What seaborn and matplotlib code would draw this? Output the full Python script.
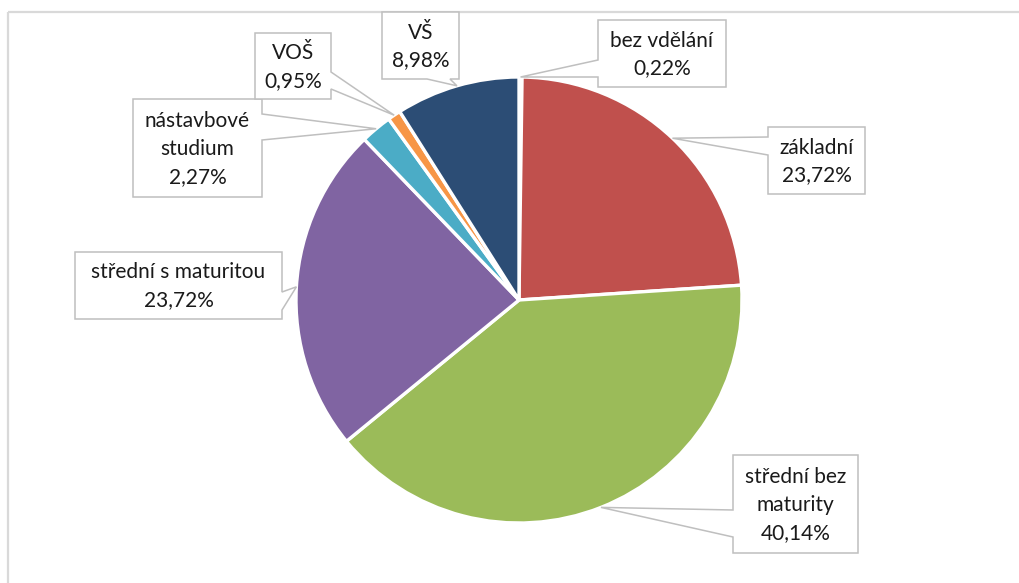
import matplotlib
matplotlib.use("Agg")
import matplotlib.pyplot as plt
import seaborn as sns
import numpy as np
from matplotlib.patches import Polygon, Rectangle

# data
categories = ["bez vdělání", "základní", "střední bez maturity", "střední s maturitou",
              "nástavbové studium", "VOŠ", "VŠ"]
shares = [0.22, 23.72, 40.14, 23.72, 2.27, 0.95, 8.98]
label_texts = ["bez vdělání\n0,22%", "základní\n23,72%", "střední bez\nmaturity\n40,14%",
               "střední s maturitou\n23,72%", "nástavbové\nstudium\n2,27%", "VOŠ\n0,95%", "VŠ\n8,98%"]
colors = ["#4F81BD", "#C0504D", "#9BBB59", "#8064A2", "#4BACC6", "#F79646", "#2C4D75"]

# callout layout in pixel coords (y down): box and where the pointer leaves the box
boxes = [(598, 20, 726, 87), (768, 127, 865, 194), (733, 455, 858, 553), (75, 252, 282, 319),
         (133, 99, 262, 197), (255, 33, 331, 99), (382, 12, 459, 79)]
pointer_side = ["left", "left", "left", "right", "right", "right", "bottom"]
pointer_base = [(60, 77), (137, 155), (510, 537), (292, 310), (114, 140), (72, 89), (427, 450)]

sns.set_theme(style="white")
plt.rcParams["font.family"] = ["Lato", "DejaVu Sans"]

fig = plt.figure(figsize=(10.2, 5.83), dpi=100)
ax = fig.add_axes([0, 0, 1, 1])

cx, cy, r = 519, 300, 223
wedges, _ = ax.pie(shares, colors=colors, startangle=-90, counterclock=True,
                   center=(cx, cy), radius=r,
                   wedgeprops=dict(edgecolor="white", linewidth=2.4))
ax.set_xlim(0, 1020)
ax.set_ylim(583, 0)
ax.set_aspect("equal")
ax.axis("off")

# chart area border (only top/left visible)
ax.add_patch(Rectangle((8.5, 11.5), 1100, 700, fill=False, edgecolor="#D9D9D9",
                       linewidth=1.6, clip_on=False))


def callout(box, side, base, tip):
    x0, y0, x1, y1 = box
    b1, b2 = base
    if side == "left":
        pts = [(x0, y0), (x1, y0), (x1, y1), (x0, y1), (x0, b2), tip, (x0, b1)]
    elif side == "right":
        pts = [(x0, y0), (x1, y0), (x1, b1), tip, (x1, b2), (x1, y1), (x0, y1)]
    else:
        pts = [(x0, y0), (x1, y0), (x1, y1), (b2, y1), tip, (b1, y1), (x0, y1)]
    ax.add_patch(Polygon(pts, closed=True, facecolor="white", edgecolor="#BFBFBF",
                         linewidth=1.1, zorder=3))


for w, txt, box, side, base in zip(wedges, label_texts, boxes, pointer_side, pointer_base):
    mid = np.deg2rad((w.theta1 + w.theta2) / 2)
    tip = (cx + r * np.cos(mid), cy + r * np.sin(mid))
    callout(box, side, base, tip)
    ax.text((box[0] + box[2]) / 2, (box[1] + box[3]) / 2 + 1, txt, ha="center", va="center",
            fontsize=15, color="#1a1a1a", linespacing=1.5, zorder=4)

fig.savefig("out.png", dpi=100, facecolor="white")
